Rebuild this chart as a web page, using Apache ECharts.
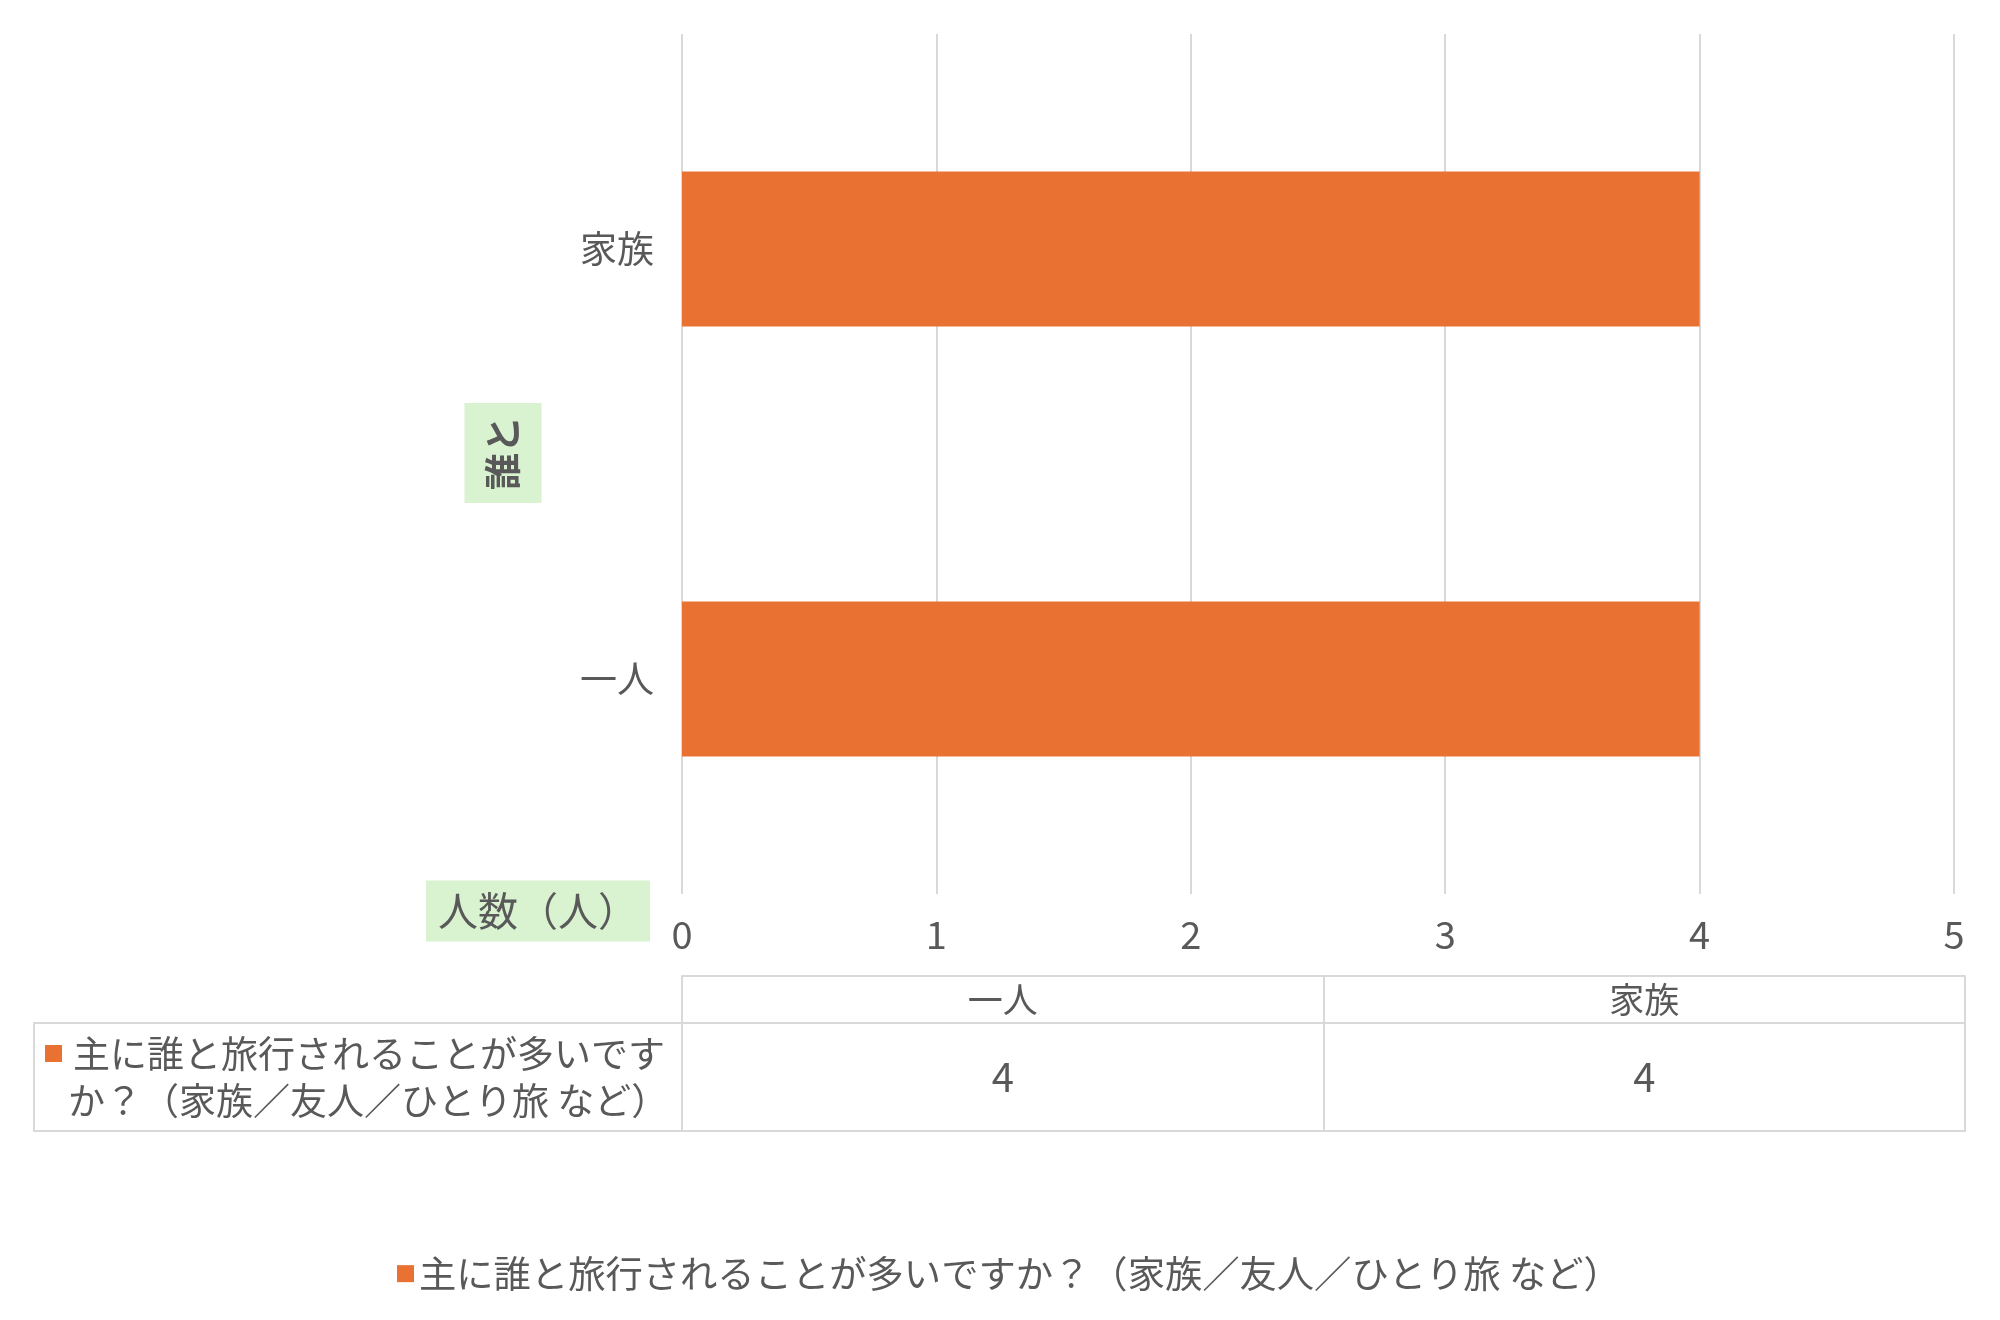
<!DOCTYPE html>
<html>
<head>
<meta charset="utf-8">
<script src="https://cdn.jsdelivr.net/npm/echarts@6/dist/echarts.min.js"></script>
<style>
  html, body { margin: 0; padding: 0; background: #fff; }
  #chart { width: 2000px; height: 1320px; }
</style>
</head>
<body>
<div id="chart"></div>
<script>
var categories = ['一人', '家族']
var counts = [4, 4]
var seriesName = '主に誰と旅行されることが多いですか？（家族／友人／ひとり旅 など）'
var xMin = 0
var xMax = 5
var xStep = 1
var xTitle = '人数（人）'
var yTitle = '誰と'

var font = 'Noto Sans CJK JP'
var textColor = '#595959'
var lineColor = '#D9D9D9'
var barColor = '#E97132'
var boxColor = '#D9F2D0'
var line = { color: lineColor, width: 2 }

var dom = document.getElementById('chart')
var myChart = echarts.init(dom)

option = {
  textStyle: { fontFamily: font },
  grid: [
    { left: 682, right: 46, top: 34, bottom: 426 },
    // data table row
    { left: 682, right: 35, top: 1023, bottom: 189, show: true, borderColor: lineColor, borderWidth: 2 }
  ],
  legend: {
    data: [seriesName],
    left: 392,
    top: 1250,
    icon: 'rect',
    itemWidth: 17,
    itemHeight: 17,
    textStyle: { fontSize: 37.3, color: textColor, fontFamily: font }
  },
  xAxis: [
    {
      gridIndex: 0,
      type: 'value',
      min: xMin,
      max: xMax,
      interval: xStep,
      axisLine: { show: false },
      axisTick: { show: false },
      splitLine: { lineStyle: line },
      axisLabel: { fontSize: 38, color: textColor, margin: 22, fontFamily: font }
    },
    {
      // table header
      gridIndex: 1,
      type: 'category',
      data: categories,
      position: 'top',
      axisLine: { lineStyle: line },
      axisTick: { show: true, length: 47, lineStyle: line },
      splitLine: { show: true, lineStyle: line },
      axisLabel: { fontSize: 35, color: textColor, margin: 6, fontFamily: font }
    },
    {
      // top border of header
      gridIndex: 1,
      type: 'category',
      data: categories,
      position: 'top',
      offset: 47,
      axisLine: { lineStyle: line },
      axisTick: { show: false },
      axisLabel: { show: false }
    }
  ],
  yAxis: [
    {
      gridIndex: 0,
      type: 'category',
      data: categories,
      axisLine: { show: false },
      axisTick: { show: false },
      axisLabel: { fontSize: 37, color: textColor, margin: 28, fontFamily: font }
    },
    {
      gridIndex: 1,
      type: 'category',
      data: [seriesName],
      axisLine: { lineStyle: line },
      axisTick: { show: true, length: 648, lineStyle: line },
      axisLabel: {
        align: 'left',
        margin: 637,
        formatter: function (v) {
          return '{sq|}{gap|}{t|' + v.slice(0, 16) + '}\n{ind|}{t|' + v.slice(16) + '}'
        },
        rich: {
          sq: { width: 17, height: 17, backgroundColor: barColor },
          gap: { width: 11 },
          ind: { width: 23 },
          t: { fontSize: 37, color: textColor, lineHeight: 47, fontFamily: font }
        }
      }
    },
    {
      // left border of the row label cell
      gridIndex: 1,
      type: 'category',
      data: [seriesName],
      position: 'left',
      offset: 648,
      axisLine: { lineStyle: line },
      axisTick: { show: false },
      axisLabel: { show: false }
    }
  ],
  graphic: [
    {
      type: 'text',
      x: 503,
      y: 453,
      rotation: Math.PI / 2,
      style: {
        text: yTitle,
        fontSize: 37,
        fontWeight: 'bold',
        fontFamily: font,
        fill: textColor,
        backgroundColor: boxColor,
        padding: [20, 13, 20, 13],
        align: 'center',
        verticalAlign: 'middle'
      }
    },
    {
      type: 'text',
      x: 538,
      y: 911,
      style: {
        text: xTitle,
        fontSize: 40,
        fontFamily: font,
        fill: textColor,
        backgroundColor: boxColor,
        padding: [10, 12, 11, 12],
        align: 'center',
        verticalAlign: 'middle'
      }
    }
  ],
  series: [
    {
      name: seriesName,
      type: 'bar',
      xAxisIndex: 0,
      yAxisIndex: 0,
      data: counts,
      barCategoryGap: '64%',
      itemStyle: { color: barColor }
    },
    {
      name: 'table',
      type: 'scatter',
      xAxisIndex: 1,
      yAxisIndex: 1,
      symbolSize: 2,
      itemStyle: { color: 'rgba(0,0,0,0)', opacity: 1 },
      data: categories.map(function (c, i) {
        return [i, 0, counts[i]]
      }),
      label: {
        show: true,
        position: 'inside',
        formatter: function (p) {
          return String(p.value[2])
        },
        fontSize: 40,
        color: textColor,
        textBorderWidth: 0,
        fontFamily: font
      }
    }
  ]
}
if (option && typeof option === 'object') {
  myChart.setOption(option, true)
}
</script>
</body>
</html>
